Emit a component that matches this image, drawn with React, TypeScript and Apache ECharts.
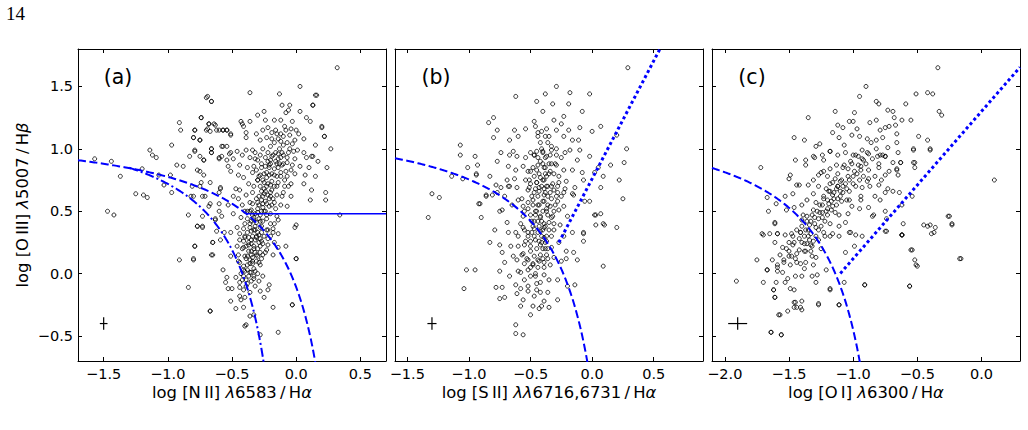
import React, { useEffect, useRef } from 'react';
import * as echarts from 'echarts';

// ---------- axis ranges & ticks ----------
const xRangeA = [-1.7, 0.7];
const xRangeB = [-1.6, 0.9];
const xRangeC = [-2.1, 0.3];
const yRange = [-0.7, 1.8];
const xTicksA = [-1.5, -1.0, -0.5, 0.0, 0.5];
const xTicksB = [-1.5, -1.0, -0.5, 0.0, 0.5];
const xTicksC = [-2.0, -1.5, -1.0, -0.5, 0.0];
const yTicks = [-0.5, 0.0, 0.5, 1.0, 1.5];

// ---------- demarcation line coefficients ----------
const kewleyNII = { a: 0.61, b: 0.47, c: 1.19, x0: -1.7, x1: 0.16 };
const kauffNII = { a: 0.61, b: 0.05, c: 1.3, x0: -1.3, x1: -0.245 };
const agnLineNII = { y: 0.48, x0: -0.389, x1: 0.7 };
const kewleySII = { a: 0.72, b: 0.32, c: 1.3, x0: -1.6, x1: -0.03 };
const seyfertSII = { m: 1.89, q: 0.76, x0: -0.27, x1: 0.55 };
const kewleyOI = { a: 0.73, b: -0.59, c: 1.33, x0: -2.1, x1: -0.94 };
const seyfertOI = { m: 1.18, q: 1.3, x0: -1.1, x1: 0.3 };

// ---------- typical error bars [x, y, dx, dy] ----------
const errA = [[-1.5, -0.4, 0.03, 0.05]];
const errB = [[-1.3, -0.4, 0.037, 0.05]];
const errC = [[-1.9, -0.4, 0.074, 0.05]];

// ---------- observed points ----------
const pointsA = [
  [0.32,1.65],[-1.57,0.92],[-1.44,0.9],[-1.37,0.78],[-1.47,0.5],[-1.42,0.47],[-1.25,0.64],[-1.19,0.63],[-1.16,0.61],[-1.2,0.84],
  [-1.14,0.99],[-1.12,0.95],[-1.09,0.93],[-0.97,1.03],[-0.93,0.87],[-0.88,0.86],[-0.98,0.79],[-0.97,0.65],[-1.03,0.71],[-1.07,0.79],
  [-0.91,1.21],[-0.9,1.15],[-0.79,1.15],[-0.8,1.09],[-0.75,1.07],[-0.74,1.25],[-0.69,1.42],[-0.66,1.38],[-0.68,1.2],[-0.63,1.19],
  [-0.69,1.16],[-0.67,1.14],[-0.62,1.15],[-0.57,1.15],[-0.54,1.15],[-0.51,1.12],[-0.58,1.02],[-0.79,0.98],[-0.83,0.94],[-0.75,0.94],
  [-0.75,0.82],[-0.72,0.91],[-0.66,1.0],[-0.66,0.97],[-0.81,0.7],[-0.82,0.62],[-0.8,0.62],[-0.75,0.7],[-0.74,0.73],[-0.73,0.62],
  [-0.71,0.62],[-0.68,0.54],[-0.67,0.56],[-0.73,0.46],[-0.77,0.38],[-0.84,0.47],[-0.73,0.38],[-0.63,0.43],[-0.6,0.5],[-0.59,0.68],
  [-0.6,0.65],[-0.6,0.93],[-0.51,0.97],[-0.54,1.02],
  [0.03,1.5],[-0.36,1.45],[-0.13,1.44],[0.15,1.43],[-0.7,1.41],[-0.66,1.38],[0.13,1.35],[-0.11,1.35],[-0.05,1.35],[-0.06,1.31],
  [-0.08,1.29],[0.03,1.3],[-0.25,1.3],[-0.3,1.27],[-0.74,1.25],[-0.43,1.22],[-0.36,1.22],[-0.24,1.23],[-0.17,1.23],[-0.12,1.23],
  [0.08,1.25],[0.11,1.22],[-0.68,1.2],[-0.64,1.2],[-0.42,1.2],[-0.41,1.18],[0.2,1.18],[-0.79,1.15],[-0.7,1.15],[-0.6,1.15],
  [-0.57,1.15],[-0.54,1.15],[-0.51,1.11],[-0.39,1.13],[-0.31,1.12],[-0.26,1.15],[-0.22,1.17],[-0.19,1.13],[-0.16,1.15],[-0.12,1.12],
  [-0.08,1.15],[-0.04,1.16],[0.0,1.15],[0.02,1.12],[-0.39,1.09],[-0.28,1.07],[-0.23,1.09],[-0.14,1.08],[-0.1,1.1],[-0.05,1.11],
  [-0.01,1.07],[0.06,1.08],[0.22,1.1],[-0.8,1.09],[-0.75,1.07],[-0.79,0.99],[-0.66,1.0],[-0.66,0.97],[-0.57,1.02],[-0.58,0.94],
  [-0.52,0.96],[-0.46,0.98],[-0.42,0.95],[-0.39,0.99],[-0.34,0.99],[-0.32,0.97],[-0.22,0.97],[-0.19,0.94],[-0.14,0.96],[-0.1,0.95],
  [-0.05,1.0],[-0.02,0.98],[0.01,0.99],[0.06,0.97],[0.15,1.03],[-0.72,0.91],[-0.6,0.92],[-0.54,0.91],[-0.49,0.92],[-0.36,0.93],
  [-0.3,0.91],[-0.2,0.91],[-0.14,0.92],[-0.07,0.93],[-0.01,0.92],[0.08,0.93],[0.17,0.9],[0.12,0.94],[0.24,0.85],[-0.53,0.86],
  [-0.44,0.87],[-0.38,0.85],[-0.33,0.86],[-0.27,0.88],[-0.21,0.87],[-0.15,0.88],[-0.11,0.87],[-0.03,0.87],[0.03,0.86],[0.1,0.85],
  [-0.77,0.83],[-0.72,0.79],[-0.51,0.82],[-0.45,0.79],[-0.41,0.77],[-0.34,0.81],[-0.28,0.79],[-0.23,0.81],[-0.17,0.79],[-0.12,0.81],
  [-0.07,0.78],[-0.01,0.8],[0.07,0.79],[0.15,0.78],[-0.67,0.73],[-0.59,0.69],[-0.47,0.68],[-0.44,0.67],[-0.37,0.72],[-0.3,0.75],
  [-0.25,0.73],[-0.2,0.71],[-0.14,0.73],[-0.09,0.7],[-0.04,0.72],[0.06,0.72],[0.12,0.67],[0.23,0.65],[-0.49,0.62],[-0.39,0.63],
  [-0.34,0.65],[-0.29,0.62],[-0.25,0.64],[-0.2,0.62],[-0.15,0.63],[-0.11,0.62],[-0.04,0.62],[0.11,0.59],[-0.6,0.56],[-0.53,0.55],
  [-0.36,0.57],[-0.3,0.57],[-0.26,0.56],[-0.21,0.54],[-0.17,0.57],[-0.12,0.55],[-0.07,0.54],[-0.49,0.48],[-0.4,0.5],[-0.35,0.51],
  [-0.3,0.49],[-0.25,0.5],[-0.2,0.48],[-0.15,0.46],[-0.63,0.44],[-0.58,0.46],[-0.43,0.45],[-0.38,0.44],[-0.33,0.43],[-0.28,0.42],
  [-0.23,0.44],[-0.17,0.4],[-0.14,0.43],[0.0,0.39],[-0.01,0.37],[-0.77,0.38],[-0.73,0.37],[-0.62,0.34],[-0.56,0.33],[-0.51,0.33],
  [-0.46,0.37],[-0.41,0.36],[-0.36,0.37],[-0.32,0.35],[-0.27,0.38],[-0.23,0.35],[-0.18,0.33],[-0.14,0.32],[-0.65,0.25],[-0.59,0.27],
  [-0.44,0.27],[-0.4,0.29],[-0.35,0.27],[-0.31,0.29],[-0.27,0.26],[-0.22,0.28],[-0.17,0.25],[-0.79,0.22],[-0.46,0.22],[-0.41,0.21],
  [-0.37,0.23],[-0.33,0.2],[-0.28,0.22],[-0.23,0.19],[-0.14,0.21],[-0.08,0.22],[-0.65,0.15],[-0.51,0.14],[-0.45,0.15],[-0.4,0.14],
  [-0.35,0.15],[-0.3,0.14],[-0.26,0.15],[-0.18,0.15],[-0.8,0.11],[0.0,0.12],[-0.44,0.09],[-0.41,0.06],[-0.38,0.07],[-0.34,0.08],
  [-0.28,0.07],[-0.57,0.03],[-0.41,0.03],[-0.36,0.01],[-0.32,0.02],[-0.26,-0.02],[-0.54,-0.03],[-0.47,-0.03],[-0.41,-0.02],[-0.33,-0.04],
  [-0.55,-0.07],[-0.44,-0.07],[-0.38,-0.08],[-0.29,-0.06],[-0.21,-0.09],[-0.53,-0.12],[-0.5,-0.12],[-0.44,-0.11],[-0.41,-0.13],[-0.28,-0.14],
  [-0.22,-0.13],[-0.44,-0.18],[-0.4,-0.19],[-0.25,-0.19],[-0.51,-0.22],[-0.43,-0.21],[-0.47,-0.28],[-0.41,-0.27],[-0.18,-0.27],[-0.03,-0.25],
  [-0.67,-0.3],[-0.36,-0.34],[-0.33,-0.33],[-0.4,-0.42],[-0.14,-0.47],[-0.28,-0.49],
  [-0.91,0.11],[-0.8,0.12],[-0.79,0.22],[-0.84,-0.11],[-0.67,-0.3],[-0.65,0.25],[-0.66,0.15],[0.0,0.12],[-0.03,-0.25],[-0.39,-0.41],
  [0.34,0.47],[0.27,1.0],[0.22,1.1],[0.2,1.17],[0.13,1.35],[0.16,1.43],[0.23,0.59],[0.13,0.94],
  [-0.3,0.75],[-0.28,0.7],[-0.25,0.68],[-0.22,0.72],[-0.26,0.62],[-0.24,0.58],[-0.29,0.55],[-0.31,0.6],[-0.2,0.65],[-0.18,0.6],
  [-0.27,0.5],[-0.23,0.47],[-0.33,0.45],[-0.36,0.4],[-0.32,0.38],[-0.3,0.33],[-0.34,0.3],[-0.38,0.33],[-0.4,0.3],[-0.37,0.25],
  [-0.33,0.22],[-0.29,0.25],[-0.35,0.18],[-0.31,0.15],[-0.39,0.12],[-0.42,0.2],[-0.36,0.08],[-0.4,0.02],[-0.37,-0.02],[-0.42,-0.05],
  [-0.21,0.85],[-0.19,0.8],[-0.16,0.9],[-0.14,0.85],[-0.12,0.78],[-0.18,0.95],[-0.22,0.9],[-0.15,0.7],[-0.1,0.88],[-0.08,0.82],
  [-0.26,0.42],[-0.28,0.37],[-0.25,0.3],[-0.22,0.35],[-0.2,0.4],
  [-0.32,0.92],[-0.28,0.95],[-0.26,1.0],[-0.24,0.93],[-0.2,1.02],[-0.17,1.05],[-0.13,1.0],[-0.1,1.03],[-0.06,0.97],[-0.03,1.04],
  [-0.15,1.12],[-0.19,1.08],[-0.09,1.18],[-0.03,1.22],
  [-0.31,0.83],[-0.27,0.85],[-0.25,0.8],[-0.23,0.77],[-0.29,0.78],[-0.33,0.7],[-0.27,0.66],[-0.21,0.6],[-0.19,0.55],[-0.16,0.52],
  [-0.3,0.52],[-0.34,0.56],[-0.36,0.5],[-0.32,0.48],[-0.29,0.44],[-0.35,0.34],[-0.31,0.3],[-0.28,0.28],[-0.26,0.24],[-0.3,0.2],
  [-0.34,0.13],[-0.31,0.1],[-0.37,0.18],[-0.39,0.22],[-0.41,0.26],[-0.44,0.32],[-0.33,0.04],[-0.35,-0.06],[-0.39,-0.1],[-0.32,-0.1],
  [-0.36,-0.15],[-0.3,0.0],[-0.45,0.1],[-0.43,0.0],[-0.27,0.12],[-0.24,0.17],[-0.22,0.23],[-0.2,0.3],[-0.18,0.36],[-0.24,0.5],
  [-0.4,0.4],[-0.38,0.5],[-0.42,0.55],[-0.45,0.6],[-0.17,0.7],[-0.1,0.65],[-0.06,0.7],[-0.12,0.93],[-0.07,0.89],[-0.04,0.83],
  [-0.35,0.42],[-0.33,0.35],[-0.37,0.29],[-0.35,0.24],[-0.32,0.27],[-0.29,0.31],[-0.27,0.33],[-0.31,0.41],[-0.34,0.47],[-0.28,0.47],
  [-0.36,0.11],[-0.34,0.1],[-0.38,0.03],[-0.35,0.01],[-0.39,-0.05],[-0.33,-0.02],[-0.29,0.09],[-0.32,0.17],[-0.28,0.17],[-0.38,0.14],
  [-0.26,0.53],[-0.23,0.56],[-0.22,0.63],[-0.24,0.66],[-0.27,0.59],[-0.19,0.67],[-0.23,0.7],[-0.26,0.75],[-0.21,0.79],[-0.19,0.74],
  [-0.24,0.86],[-0.2,0.88],[-0.17,0.84],[-0.15,0.78],[-0.13,0.88],[-0.11,0.97],[-0.16,0.97],[-0.07,1.05],[-0.12,1.06],[-0.09,0.75]
];

const pointsB = [
  [0.29,1.65],[-0.29,1.5],[-0.18,1.45],[-0.38,1.44],[-0.02,1.44],[-0.62,1.42],[-0.45,1.38],[-0.32,1.36],[-0.19,1.36],[-0.4,1.3],
  [-0.08,1.3],[-0.8,1.25],[-0.84,1.21],[-0.47,1.22],[-0.31,1.23],[-0.23,1.26],[-0.25,1.2],[0.07,1.18],[0.0,1.14],[-0.1,1.17],
  [-0.77,1.15],[-0.8,1.09],[-0.63,1.15],[-0.54,1.16],[-0.6,1.1],[-0.67,1.07],[-0.46,1.18],[-0.44,1.13],[-0.41,1.14],[-0.37,1.16],
  [-0.35,1.1],[-0.29,1.15],[-0.23,1.1],[-0.19,1.15],[-0.16,1.07],[-0.11,1.07],[0.2,1.11],[-1.07,1.03],[-1.07,0.95],[-0.95,0.94],
  [-0.93,0.87],[-1.01,0.85],[-1.14,0.78],[-1.05,0.76],[-0.94,0.8],[-0.94,0.79],[-0.83,0.78],[-0.77,0.9],[-0.74,0.97],[-0.67,0.95],
  [-0.64,0.98],[-0.61,0.94],[-0.54,0.93],[-0.5,0.97],[-0.47,0.95],[-0.44,0.93],[-0.4,0.97],[-0.37,0.94],[-0.33,0.99],[-0.29,0.95],
  [-0.25,0.93],[-0.22,0.97],[-0.18,0.99],[-0.1,0.99],[-0.02,0.94],[-0.12,0.91],[0.28,1.0],[0.15,0.87],[0.26,0.89],[0.05,0.85],
  [-0.68,0.86],[-0.62,0.83],[-0.56,0.86],[-0.52,0.82],[-0.45,0.83],[-0.39,0.85],[-0.34,0.82],[-0.29,0.87],[-0.23,0.83],[-0.16,0.83],
  [-0.08,0.81],[-1.3,0.64],[-1.24,0.61],[-1.33,0.45],[-0.92,0.56],[-0.9,0.45],[-0.86,0.63],[-0.78,0.71],[-0.77,0.65],[-0.75,0.5],
  [-0.71,0.62],[-0.69,0.75],[-0.67,0.7],[-0.63,0.76],[-0.61,0.69],[-0.57,0.6],[-0.54,0.75],[-0.51,0.69],[-0.49,0.62],[-0.45,0.73],
  [-0.43,0.66],[-0.39,0.75],[-0.37,0.7],[-0.36,0.62],[-0.31,0.67],[-0.29,0.62],[-0.27,0.73],[-0.23,0.65],[-0.21,0.74],[-0.16,0.64],
  [-0.14,0.69],[-0.07,0.75],[-0.02,0.58],[0.02,0.81],[0.07,0.69],[0.09,0.78],[0.22,0.75],[0.25,0.6],[0.07,0.48],[0.02,0.47],
  [-0.07,0.33],[0.2,0.37],[0.09,0.4],
  [-0.83,0.25],[-1.02,0.03],[-0.95,0.03],[-1.04,-0.12],[-0.75,0.23],[-0.73,0.17],[-0.71,0.09],[-0.75,0.02],[-0.78,-0.11],[-0.73,-0.11],
  [-0.75,-0.2],[-0.71,-0.19],[-0.68,0.33],[-0.66,0.22],[-0.64,0.14],[-0.67,-0.02],[-0.62,-0.09],[-0.61,-0.16],[-0.62,-0.41],[-0.62,-0.48],
  [-0.56,-0.49],[-0.58,-0.26],[-0.56,-0.21],[-0.52,-0.14],[-0.5,-0.33],[-0.48,-0.26],[-0.43,-0.28],[-0.41,-0.26],[-0.39,-0.22],[-0.35,-0.27],
  [-0.28,-0.21],[-0.36,-0.15],[-0.45,-0.13],[-0.55,-0.05],[-0.58,0.01],[-0.52,0.03],[-0.46,-0.02],[-0.42,-0.07],[-0.39,-0.01],[-0.35,-0.05],
  [-0.28,-0.05],[-0.2,-0.1],[-0.14,-0.09],[-0.61,0.11],[-0.56,0.16],[-0.52,0.11],[-0.48,0.07],[-0.44,0.11],[-0.39,0.09],[-0.34,0.07],
  [-0.31,0.13],[-0.25,0.1],[-0.21,0.12],[-0.12,0.11],[-0.21,0.18],[-0.15,0.17],[-0.07,0.26],[0.09,0.06],[-0.6,0.22],[-0.54,0.26],
  [-0.5,0.22],[-0.46,0.27],[-0.42,0.23],[-0.37,0.26],[-0.33,0.21],[-0.27,0.25],[-0.23,0.3],[-0.16,0.33],[-0.07,0.32],[-0.62,0.33],
  [-0.56,0.37],[-0.52,0.33],[-0.48,0.38],[-0.44,0.33],[-0.39,0.37],[-0.35,0.41],[-0.31,0.35],[-0.26,0.39],[-0.2,0.46],[0.03,0.47],
  [0.1,0.39],[0.03,0.39],[-0.56,0.46],[-0.5,0.47],[-0.46,0.5],[-0.42,0.46],[-0.37,0.5],[-0.32,0.46],[-0.27,0.51],[-0.73,0.51],
  [-0.79,0.35],[-0.69,0.41],[-0.81,0.63],[-0.91,0.56],[-0.65,0.55],[-0.6,0.59],[-0.56,0.54],[-0.52,0.57],[-0.48,0.59],[-0.44,0.55],
  [-0.39,0.58],[-0.34,0.54],[-0.28,0.58],[-0.23,0.54],[-0.15,0.63],[-0.06,0.58],[-0.86,0.62],[-0.74,0.69],[-0.68,0.7],[-0.52,0.67],
  [-0.47,0.65],[-0.43,0.69],[-0.38,0.65],[-0.33,0.7],[-0.28,0.65],[-0.22,0.68],[-0.45,0.73],[-0.51,0.75],
  [-0.42,0.9],[-0.38,0.85],[-0.35,0.8],[-0.4,0.75],[-0.36,0.7],[-0.32,0.72],[-0.44,0.62],[-0.4,0.58],[-0.37,0.52],[-0.42,0.45],
  [-0.39,0.4],[-0.35,0.35],[-0.41,0.3],[-0.38,0.25],[-0.45,0.2],[-0.42,0.15],[-0.36,0.12],[-0.48,0.08],[-0.44,0.05],[-0.5,0.18],
  [-0.52,0.3],[-0.47,0.36],[-0.33,0.45],[-0.3,0.55],[-0.46,0.68],[-0.34,0.95],[-0.3,0.88],[-0.5,0.82],[-0.55,0.5],[-0.58,0.4],
  [-0.6,0.3],[-0.55,0.08],[-0.5,-0.02],[-0.45,-0.08],[-0.4,0.98],[-0.36,1.05],[-0.42,1.05],[-0.47,0.95],[-0.27,0.78],[-0.25,0.62],
  [-0.45,0.98],[-0.41,1.0],[-0.38,0.93],[-0.33,0.88],[-0.37,0.78],[-0.43,0.8],[-0.41,0.7],[-0.34,0.65],[-0.39,0.63],[-0.43,0.55],
  [-0.36,0.47],[-0.4,0.5],[-0.44,0.42],[-0.4,0.35],[-0.37,0.3],[-0.43,0.26],[-0.47,0.3],[-0.4,0.2],[-0.36,0.2],[-0.47,0.14],
  [-0.43,0.1],[-0.39,0.05],[-0.5,0.05],[-0.46,0.0],[-0.53,0.12],[-0.55,0.23],[-0.5,0.26],[-0.49,0.42],[-0.46,0.47],[-0.52,0.52],
  [-0.48,0.55],[-0.5,0.72],[-0.48,0.85],[-0.44,1.1],[-0.38,1.1],[-0.33,1.02],[-0.29,1.0],[-0.31,0.8],[-0.28,0.7],[-0.33,0.6],
  [-0.31,0.5],[-0.31,0.4],[-0.33,0.3],[-0.57,0.15],[-0.52,-0.1],[-0.47,-0.18],[-0.42,-0.15],[-0.58,-0.12],[-0.6,0.02],[-0.55,0.35],
  [-0.41,0.42],[-0.38,0.38],[-0.42,0.34],[-0.39,0.29],[-0.41,0.25],[-0.38,0.2],[-0.4,0.12],[-0.37,0.15],[-0.43,0.38],[-0.36,0.55],
  [-0.39,0.68],[-0.42,0.77],[-0.38,0.8],[-0.35,0.88],[-0.4,0.88],[-0.44,0.87],[-0.47,0.78],[-0.45,0.5],[-0.47,0.42],[-0.49,0.33]
];

const pointsC = [
  [-0.34,1.65],[-0.9,1.5],[-0.95,1.42],[-0.51,1.44],[-0.42,1.45],[-0.38,1.44],[-0.82,1.38],[-0.8,1.36],[-0.59,1.36],[-1.14,1.3],
  [-0.99,1.29],[-0.73,1.31],[-0.69,1.3],[-0.33,1.3],[-0.31,1.27],[-1.35,1.25],[-1.12,1.19],[-1.08,1.17],[-1.03,1.22],[-1.0,1.22],
  [-0.97,1.16],[-0.87,1.21],[-0.82,1.23],[-0.79,1.15],[-0.75,1.17],[-0.72,1.18],[-0.68,1.25],[-0.62,1.23],[-0.55,1.23],[-0.67,1.19],
  [-0.66,1.12],[-1.16,1.13],[-1.46,1.09],[-1.38,1.07],[-1.26,1.04],[-1.29,1.02],[-1.11,1.09],[-1.07,1.03],[-1.01,1.11],[-0.95,1.1],
  [-0.89,1.08],[-0.82,1.07],[-0.77,1.09],[-0.73,1.01],[-0.49,1.1],[-0.42,1.07],[-0.4,1.0],[-0.53,0.99],[-0.65,0.97],[-0.79,0.95],
  [-0.75,0.94],[-0.88,0.96],[-0.93,0.99],[-1.0,0.95],[-1.06,0.97],[-1.12,0.95],[-1.18,0.98],[-1.24,0.95],[-1.31,0.94],[-1.37,0.91],
  [-1.45,0.91],[-1.37,0.87],[-1.72,0.85],[-1.49,0.79],[-1.44,0.71],[-1.5,0.76],[-1.67,0.61],[-1.66,0.5],[-1.6,0.56],[-1.53,0.62],
  [-1.47,0.64],[-1.42,0.71],[-1.35,0.71],[-1.31,0.75],[-1.27,0.79],[-1.23,0.82],[-1.18,0.84],[-1.13,0.87],[-1.07,0.87],[-1.01,0.88],
  [-0.94,0.86],[-0.88,0.83],[-0.8,0.85],[-0.72,0.82],[-0.66,0.84],[-0.53,0.89],[-0.52,0.85],[-0.63,0.89],[0.1,0.75],[-0.73,0.68],
  [-0.8,0.71],[-0.88,0.76],[-0.94,0.62],[-1.03,0.59],[-1.08,0.65],[-1.12,0.7],[-1.18,0.66],[-1.23,0.62],[-1.27,0.7],[-1.31,0.64],
  [-1.36,0.59],[-1.4,0.55],[-1.46,0.53],[-1.52,0.51],[-1.61,0.41],[-1.61,0.4],[-1.71,0.32],[-1.39,0.47],[-1.33,0.42],[-1.24,0.49],
  [-1.17,0.51],[-1.11,0.47],[-1.04,0.48],[-0.95,0.52],[-0.85,0.46],[-0.75,0.5],[-0.64,0.65],[-0.61,0.4],[-0.45,0.39],[-0.4,0.39],
  [-0.36,0.37],[-0.26,0.46],[-0.23,0.4],[-0.62,0.31],[-0.75,0.34],
  [-1.91,-0.06],[-1.75,0.11],[-1.67,0.03],[-1.7,-0.07],[-1.62,-0.13],[-1.61,-0.19],[-1.58,-0.33],[-1.64,-0.47],[-1.56,-0.49],[-1.51,-0.3],
  [-1.45,-0.23],[-1.44,-0.27],[-1.4,-0.29],[-1.4,-0.22],[-1.49,-0.12],[-1.46,-0.13],[-1.53,-0.07],[-1.6,-0.07],[-1.55,0.01],[-1.59,0.02],
  [-1.51,-0.04],[-1.45,-0.02],[-1.4,-0.02],[-1.38,0.04],[-1.32,-0.02],[-1.29,-0.07],[-1.28,-0.01],[-1.27,-0.25],[-1.18,-0.13],[-1.11,-0.25],
  [-1.07,-0.07],[-0.91,-0.09],[-0.56,-0.1],[-0.55,0.19],[-0.52,0.11],[-0.5,0.06],[-0.16,0.12],[-0.62,0.31],[-0.39,0.32],[-0.74,0.34],
  [-1.06,0.17],[-0.99,0.22],[-0.93,0.3],[-1.31,0.07],[-1.21,0.03],[-1.29,0.13],[-1.37,0.09],[-1.44,0.09],[-1.49,0.07],[-1.54,0.09],
  [-1.59,0.07],[-1.63,0.11],[-1.57,0.15],[-1.5,0.14],[-1.44,0.16],[-1.38,0.18],[-1.32,0.14],[-1.61,0.25],[-1.55,0.21],[-1.47,0.23],
  [-1.4,0.25],[-1.33,0.23],[-1.27,0.27],[-1.22,0.3],[-1.16,0.32],[-1.11,0.3],[-1.7,0.31],[-1.59,0.32],[-1.53,0.31],[-1.48,0.32],
  [-1.41,0.33],[-1.03,0.33],[-0.98,0.31],
  [-1.18,0.98],[-1.23,0.91],[-1.3,0.93],[-1.25,0.81],[-1.2,0.78],[-1.16,0.73],[-1.12,0.7],[-1.09,0.75],[-1.04,0.78],[-0.99,0.82],
  [-0.94,0.83],[-0.92,0.91],[-0.96,0.94],[-0.89,0.97],[-0.81,0.94],[-0.77,0.95],[-1.19,0.66],[-1.15,0.65],[-1.1,0.66],[-1.2,0.59],
  [-1.24,0.55],[-1.29,0.57],[-1.16,0.54],[-1.14,0.49],[-1.2,0.47],[-1.26,0.49],[-1.31,0.51],[-1.36,0.46],[-1.4,0.43],[-1.34,0.39],
  [-1.29,0.37],[-1.37,0.35],[-1.41,0.33],[-1.35,0.3],[-1.31,0.26],[-1.46,0.25],[-1.42,0.19],[-1.37,0.18],[-1.5,0.18],[-1.54,0.11],
  [-1.48,0.14],[-1.23,0.33],[-1.18,0.3],[-1.11,0.38],[-1.06,0.41],[-1.02,0.33],[-1.05,0.59],[-1.01,0.54],[-0.94,0.59],[-0.88,0.53],
  [-0.84,0.47],[-0.79,0.59],[-0.75,0.65],[-0.69,0.66],[-1.03,0.66],[-0.98,0.7],[-0.93,0.69],[-0.89,0.74],[-0.83,0.78],[-0.75,0.79],
  [-0.66,0.83],[-0.65,0.79],[-0.75,0.94],[-0.69,0.89],[-0.63,0.89],[-0.66,1.05],[-0.53,1.0],[-0.52,0.89],[-0.4,0.99],[-0.54,0.62],
  [-0.62,0.55],[-0.74,0.44],[-0.62,0.31],[-0.42,0.38],[-0.37,0.33],[-0.25,0.46],[-0.23,0.39],[-0.17,0.12],[-0.54,0.19],[-0.56,-0.1],
  [-0.51,0.07],[-0.91,-0.09],[-1.65,0.32],[-1.59,0.32],[-1.67,0.03],[-1.59,0.05],[-1.62,-0.13],[-1.61,-0.19],[-1.46,-0.27],[-1.41,-0.27],
  [-1.46,-0.23],[-1.57,-0.33],[-1.64,-0.47],[-1.56,-0.49],[-1.27,-0.24],[-1.11,-0.25],[-1.18,-0.12],
  [-1.42,0.28],[-1.38,0.3],[-1.35,0.35],[-1.33,0.32],[-1.3,0.4],[-1.27,0.44],[-1.25,0.38],[-1.22,0.42],[-1.2,0.52],[-1.17,0.58],
  [-1.15,0.6],[-1.13,0.55],[-1.1,0.62],[-1.08,0.7],[-1.06,0.72],[-1.03,0.75],[-1.0,0.78],[-0.97,0.8],[-0.95,0.75],[-0.92,0.78],
  [-1.44,0.35],[-1.4,0.38],[-1.36,0.42],[-1.32,0.47],[-1.28,0.5],[-1.26,0.55],[-1.23,0.6],[-1.21,0.68],[-1.18,0.72],[-1.14,0.76],
  [-1.47,0.3],[-1.5,0.25],[-1.52,0.2],[-1.45,0.12],[-1.41,0.08],[-1.36,0.24],[-1.25,0.2],[-1.18,0.4],[-1.12,0.8],[-1.08,0.85],
  [-1.02,0.9],[-0.98,0.95],[-0.9,0.88],[-0.85,0.92],[-0.82,1.0],[-0.86,1.05],[-0.8,0.88],[-0.87,0.7],[-0.83,0.62],[-0.78,0.75],
  [-1.34,0.27],[-1.32,0.22],[-1.29,0.3],[-1.27,0.35],[-1.24,0.45],[-1.19,0.56],[-1.16,0.63],[-1.13,0.68],[-1.21,0.5],[-1.3,0.45],
  [-1.38,0.24],[-1.33,0.18],[-1.12,0.6],[-1.09,0.58],[-1.05,0.68],[-1.1,0.74],[-1.0,0.72],[-0.96,0.87],[-1.04,0.84],[-0.93,0.92]
];

function hyperbola(p: { a: number; b: number; c: number; x0: number; x1: number }) {
  const out: number[][] = [];
  const n = 160;
  for (let i = 0; i <= n; i++) {
    const x = p.x0 + ((p.x1 - p.x0) * i) / n;
    out.push([x, p.a / (x - p.b) + p.c]);
  }
  return out;
}
function straight(p: { m: number; q: number; x0: number; x1: number }) {
  return [
    [p.x0, p.m * p.x0 + p.q],
    [p.x1, p.m * p.x1 + p.q],
  ];
}

const BLUE = '#0000ff';
const FONT = 'DejaVu Sans';
const TICK_FS = 14.5;
const TITLE_FS = 16.4;
const fmt = (v: number) => v.toFixed(1).replace('-', '\u2212');

export default function App() {
  const ref = useRef<HTMLDivElement>(null);
  useEffect(() => {
    if (!ref.current) return;
    const chart = echarts.init(ref.current, undefined, { renderer: 'svg' });

    const gridLefts = [78, 395, 712];
    const grids = gridLefts.map((l) => ({ left: l, top: 49, width: 308, height: 312 }));
    const xr = [xRangeA, xRangeB, xRangeC];
    const xt = [xTicksA, xTicksB, xTicksC];

    const xAxis: any[] = [];
    const yAxis: any[] = [];
    for (let i = 0; i < 3; i++) {
      const base = {
        type: 'value',
        gridIndex: i,
        min: xr[i][0],
        max: xr[i][1],
        splitLine: { show: false },
        axisLine: { show: true, onZero: false, lineStyle: { color: '#000', width: 1 } },
        axisTick: { show: true, inside: true, length: 4, customValues: xt[i], lineStyle: { color: '#000' } },
      };
      xAxis.push({
        ...base,
        position: 'bottom',
        axisLabel: { show: true, customValues: xt[i], formatter: fmt, margin: 5, color: '#000', fontFamily: FONT, fontSize: TICK_FS },
      });
      xAxis.push({ ...base, position: 'top', axisLabel: { show: false } });
      const ybase = {
        type: 'value',
        gridIndex: i,
        min: yRange[0],
        max: yRange[1],
        splitLine: { show: false },
        axisLine: { show: true, onZero: false, lineStyle: { color: '#000', width: 1 } },
        axisTick: { show: true, inside: true, length: 4, customValues: yTicks, lineStyle: { color: '#000' } },
      };
      yAxis.push({
        ...ybase,
        position: 'left',
        axisLabel: { show: i === 0, customValues: yTicks, formatter: fmt, margin: 5, color: '#000', fontFamily: FONT, fontSize: TICK_FS },
      });
      yAxis.push({ ...ybase, position: 'right', axisLabel: { show: false } });
    }

    const scatter = (data: number[][], i: number) => ({
      type: 'scatter',
      xAxisIndex: 2 * i,
      yAxisIndex: 2 * i,
      data,
      symbol: 'circle',
      symbolSize: 4,
      itemStyle: { color: 'rgba(255,255,255,0)', borderColor: '#000', borderWidth: 1 },
      z: 2,
      silent: true,
    });
    const line = (data: number[][], i: number, type: any, width: number, cap = 'butt') => ({
      type: 'line',
      xAxisIndex: 2 * i,
      yAxisIndex: 2 * i,
      data,
      showSymbol: false,
      symbol: 'none',
      clip: true,
      lineStyle: { color: BLUE, width, type, cap },
      z: 3,
      silent: true,
    });
    const errSeries = (data: number[][], i: number) => ({
      type: 'custom',
      xAxisIndex: 2 * i,
      yAxisIndex: 2 * i,
      data,
      z: 4,
      silent: true,
      encode: { x: 0, y: 1 },
      renderItem: (_p: any, api: any) => {
        const x = api.value(0), y = api.value(1), dx = api.value(2), dy = api.value(3);
        const a = api.coord([x - dx, y]);
        const b = api.coord([x + dx, y]);
        const c = api.coord([x, y - dy]);
        const d = api.coord([x, y + dy]);
        return {
          type: 'group',
          children: [
            { type: 'line', shape: { x1: a[0], y1: a[1], x2: b[0], y2: b[1] }, style: { stroke: '#000', lineWidth: 1.2 } },
            { type: 'line', shape: { x1: c[0], y1: c[1], x2: d[0], y2: d[1] }, style: { stroke: '#000', lineWidth: 1.2 } },
          ],
        };
      },
    });

    const series: any[] = [
      scatter(pointsA, 0),
      scatter(pointsB, 1),
      scatter(pointsC, 2),
      line(hyperbola(kewleyNII), 0, [8, 3.5], 2),
      line(hyperbola(kauffNII), 0, [9, 3, 2, 3], 2),
      line([[agnLineNII.x0, agnLineNII.y], [agnLineNII.x1, agnLineNII.y]], 0, 'solid', 1.5),
      line(hyperbola(kewleySII), 1, [8, 3.5], 2),
      line(straight(seyfertSII), 1, [3, 2.8], 3),
      line(hyperbola(kewleyOI), 2, [8, 3.5], 2),
      line(straight(seyfertOI), 2, [3, 2.8], 3),
      errSeries(errA, 0),
      errSeries(errB, 1),
      errSeries(errC, 2),
    ];

    const txt = (x: number, y: number, parts: [string, boolean][], rot = 0) => ({
      type: 'text',
      x,
      y,
      rotation: rot,
      style: {
        text: parts.map(([s, it]) => `{${it ? 'i' : 'n'}|${s}}`).join(''),
        align: 'center',
        verticalAlign: 'middle',
        fill: '#000',
        rich: {
          n: { fontFamily: FONT, fontSize: TITLE_FS, fill: '#000' },
          i: { fontFamily: FONT, fontSize: TITLE_FS, fontStyle: 'italic', fill: '#000' },
        },
      },
    });
    const T = '\u2009';

    const graphic: any[] = [
      { type: 'text', left: 6, top: 4, style: { text: '14', fontFamily: 'Liberation Serif', fontSize: 19, fill: '#000' } },
      { type: 'text', x: 118, y: 77, style: { text: '(a)', fontFamily: FONT, fontSize: 20.5, fill: '#000', align: 'center', verticalAlign: 'middle' } },
      { type: 'text', x: 436, y: 77, style: { text: '(b)', fontFamily: FONT, fontSize: 20.5, fill: '#000', align: 'center', verticalAlign: 'middle' } },
      { type: 'text', x: 752, y: 77, style: { text: '(c)', fontFamily: FONT, fontSize: 20.5, fill: '#000', align: 'center', verticalAlign: 'middle' } },
      txt(232, 392, [[`log [N${T}II] `, false], ['λ', true], [`6583${T}/${T}H`, false], ['α', true]]),
      txt(549, 392, [[`log [S${T}II] `, false], ['λλ', true], [`6716,6731${T}/${T}H`, false], ['α', true]]),
      txt(866, 392, [[`log [O${T}I] `, false], ['λ', true], [`6300${T}/${T}H`, false], ['α', true]]),
      txt(22, 205, [[`log [O${T}III] `, false], ['λ', true], [`5007${T}/${T}H`, false], ['β', true]], Math.PI / 2),
    ];

    chart.setOption({
      animation: false,
      backgroundColor: '#fff',
      grid: grids,
      xAxis,
      yAxis,
      series,
      graphic,
    });
    return () => chart.dispose();
  }, []);
  return <div ref={ref} style={{ position: 'fixed', left: 0, top: 0, width: 1028, height: 430 }} />;
}
